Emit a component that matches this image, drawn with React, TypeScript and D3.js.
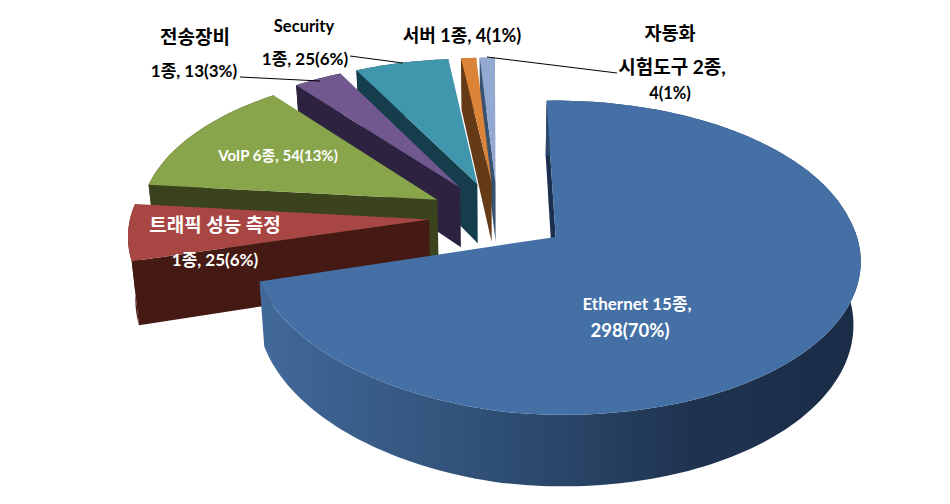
import * as d3 from "d3";

// 항목 순서: 12시 방향에서 시계 방향
const categories = ["Ethernet", "트래픽 성능 측정", "VoIP", "전송장비", "Security", "서버", "자동화 시험도구"];
const counts = [298, 25, 54, 13, 25, 4, 4];

const topColors = ["#4470a6", "#a84643", "#88a54b", "#71588f", "#4096ac", "#db8437", "#94a9d1"];
const wallColors = ["#1b3050", "#451a14", "#3a431c", "#2d2340", "#153d4b", "#653a16", "#3a5272"];

const width = 950;
const height = 504;

// 3D projection settings
const cx = 497;
const cy = 216.5;
const rx = 296;
const ry = 149;
const persp = 0.13;
const explode = 0.234;
const depth = 61;
const bottomScaleX = 0.98;
const shearX = 6.5;
const rollY = 7;

function project(X: number, Y: number, bottom: boolean): [number, number] {
  const w = 1 + persp * Y;
  const px = (rx * X) / w + shearX * Math.max(Y, 0) + 1;
  const py = cy - (ry * Y) / w + rollY * Math.min(X, 0);
  return bottom ? [cx + px * bottomScaleX, py + depth / w] : [cx + px, py];
}

const rotation = (-1.7 * Math.PI) / 180;
const pie = d3
  .pie<number>()
  .sort(null)
  .startAngle(rotation)
  .endAngle(rotation + 2 * Math.PI);

const arcs = pie(counts);
const line = d3.line();

function rimPoints(a: d3.PieArcDatum<number>, bottom: boolean) {
  const mid = (a.startAngle + a.endAngle) / 2;
  const ox = explode * Math.sin(mid);
  const oy = explode * Math.cos(mid);
  const n = Math.max(4, Math.ceil((a.endAngle - a.startAngle) * 40));
  return d3.range(n + 1).map((i) => {
    const t = a.startAngle + ((a.endAngle - a.startAngle) * i) / n;
    return project(ox + Math.sin(t), oy + Math.cos(t), bottom);
  });
}

function apex(a: d3.PieArcDatum<number>, bottom: boolean) {
  const mid = (a.startAngle + a.endAngle) / 2;
  return project(explode * Math.sin(mid), explode * Math.cos(mid), bottom);
}

const leaders = [
  [[240, 77], [320, 81]],
  [[350, 56], [403, 63]],
  [[487, 57], [617, 73]],
] as [number, number][][];

const labels = [
  { t: "전송장비", x: 195, y: 36, s: 19, c: "#000" },
  { t: "1종, 13(3%)", x: 194, y: 70, s: 17, c: "#000" },
  { t: "Security", x: 304, y: 26, s: 16.5, c: "#000" },
  { t: "1종, 25(6%)", x: 305, y: 58, s: 17, c: "#000" },
  { t: "서버 1종, 4(1%)", x: 462, y: 35, s: 18, c: "#000" },
  { t: "자동화", x: 670, y: 33, s: 18.5, c: "#000" },
  { t: "시험도구 2종,", x: 672, y: 66, s: 19, c: "#000" },
  { t: "4(1%)", x: 670, y: 93, s: 16.5, c: "#000" },
  { t: "VoIP 6종, 54(13%)", x: 278, y: 155, s: 15, c: "#fff" },
  { t: "트래픽 성능 측정", x: 215, y: 224, s: 19, c: "#fff" },
  { t: "1종, 25(6%)", x: 215, y: 259, s: 17, c: "#fff" },
  { t: "Ethernet 15종,", x: 637, y: 303, s: 17, c: "#fff" },
  { t: "298(70%)", x: 630, y: 330, s: 18.5, c: "#fff" },
];

export default function App() {
  const order = arcs.map((_, i) => i).reverse();
  return (
    <svg
      width={width}
      height={height}
      style={{ position: "absolute", left: 0, top: 0, display: "block", background: "#fff" }}
      fontFamily="Lato, 'Noto Sans CJK KR', sans-serif"
    >
      <defs>
        <linearGradient id="ethWall" gradientUnits="userSpaceOnUse" x1={262} x2={860} y1={0} y2={0}>
          <stop offset="0" stopColor="#41699a" />
          <stop offset="0.45" stopColor="#2c4a6e" />
          <stop offset="0.72" stopColor="#1f3350" />
          <stop offset="1" stopColor="#1a2c46" />
        </linearGradient>
      </defs>
      {order.map((i) => {
        const a = arcs[i];
        const rimTop = rimPoints(a, false);
        const rimBot = rimPoints(a, true);
        const outer = [...rimTop, ...rimBot.slice().reverse()];
        const side = [apex(a, false), rimTop[0], rimBot[0], apex(a, true)];
        const top = [apex(a, false), ...rimTop];
        const wall = i === 0 ? "url(#ethWall)" : wallColors[i];
        return (
          <g key={categories[i]}>
            <path d={line(side)! + "Z"} fill={wallColors[i]} />
            <path d={line(outer)! + "Z"} fill={wall} />
            <path d={line(top)! + "Z"} fill={topColors[i]} />
          </g>
        );
      })}
      {leaders.map((l, i) => (
        <path key={i} d={line(l)!} fill="none" stroke="#000" strokeWidth={1} />
      ))}
      {labels.map((l) => (
        <text
          key={l.t + l.x}
          x={l.x}
          y={l.y}
          fontSize={l.s}
          fontWeight={700}
          fill={l.c}
          textAnchor="middle"
          dominantBaseline="central"
        >
          {l.t}
        </text>
      ))}
    </svg>
  );
}
